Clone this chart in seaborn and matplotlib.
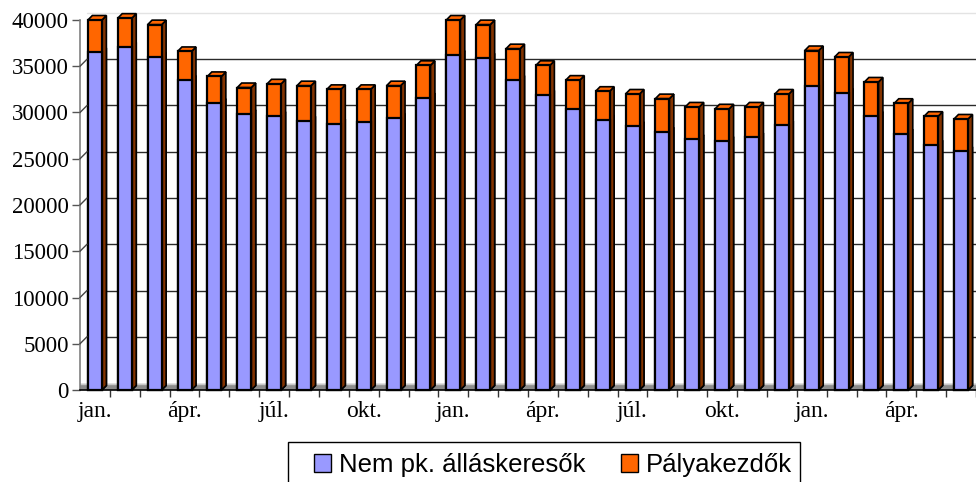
import numpy as np
import pandas as pd
import matplotlib
matplotlib.use("Agg")
import matplotlib.pyplot as plt
import matplotlib.transforms as mtransforms
from matplotlib.patches import Polygon, Patch, Rectangle
from matplotlib.lines import Line2D
import seaborn as sns

# ---- data ----
months = ["jan.", "febr.", "márc.", "ápr.", "máj.", "jún.",
          "júl.", "aug.", "szept.", "okt.", "nov.", "dec."] * 2 + \
         ["jan.", "febr.", "márc.", "ápr.", "máj.", "jún."]
nem_pk = [36500, 37100, 36000, 33500, 31000, 29800, 29600, 29100, 28800, 29000, 29400, 31600,
          36200, 35900, 33500, 31900, 30400, 29200, 28500, 27900, 27100, 26900, 27300, 28600,
          32900, 32100, 29600, 27700, 26500, 25800]
total = [40000, 40200, 39500, 36600, 33900, 32700, 33100, 32900, 32500, 32500, 32900, 35100,
         40000, 39500, 36900, 35100, 33500, 32300, 32000, 31500, 30600, 30400, 30600, 32000,
         36700, 36000, 33300, 31000, 29600, 29300]
palyakezdo = [t - n for t, n in zip(total, nem_pk)]
yticks = [0, 5000, 10000, 15000, 20000, 25000, 30000, 35000, 40000]
shown_labels = {"jan.", "ápr.", "júl.", "okt."}
series_names = ["Nem pk. álláskeresők", "Pályakezdők"]

df = pd.DataFrame({"idx": range(len(months)), "month": months,
                   "nem": nem_pk, "tot": [n + p for n, p in zip(nem_pk, palyakezdo)]})

BLUE = "#9999FF"
ORANGE = "#FF6600"
BLUE_SIDE = "#4F4F8A"
ORANGE_SIDE = "#833300"

sns.set_theme(style="white")
plt.rcParams["font.family"] = ["Liberation Serif", "DejaVu Serif"]

fig = plt.figure(figsize=(9.76, 4.82), dpi=100)
W, H = 976, 482
ax = fig.add_axes([80 / W, 1 - 390 / H, 1 - 80 / W, (390 - 20) / H])

sns.barplot(data=df, x="idx", y="tot", color=ORANGE, width=0.47, saturation=1,
            edgecolor="black", linewidth=1.6, ax=ax, zorder=3)
sns.barplot(data=df, x="idx", y="nem", color=BLUE, width=0.47, saturation=1,
            edgecolor="black", linewidth=1.6, ax=ax, zorder=3)

n = len(months)
ax.set_xlim(-0.5, 29.07)
ax.set_ylim(0, 40000)
fig.canvas.draw()

# 3D side/top faces derived from the bar patches
DX, DY = 4.5, 4.5  # pixels
inv = ax.transData.inverted()
def off(pt):
    disp = ax.transData.transform(pt)
    return inv.transform(disp + np.array([DX, DY]))

patches = list(ax.patches)
orange_p = patches[:n]
blue_p = patches[n:]
for p in patches:
    p.set_clip_on(False)
for group, side_c, top_c in [(blue_p, BLUE_SIDE, BLUE), (orange_p, ORANGE_SIDE, ORANGE)]:
    for p in group:
        x0, y0 = p.get_x(), p.get_y()
        x1, y1 = x0 + p.get_width(), y0 + p.get_height()
        side = [(x1, y0), (x1, y1), tuple(off((x1, y1))), tuple(off((x1, y0)))]
        top = [(x0, y1), (x1, y1), tuple(off((x1, y1))), tuple(off((x0, y1)))]
        ax.add_patch(Polygon(side, closed=True, facecolor=side_c, edgecolor="black",
                             lw=1.2, zorder=2.5, clip_on=False))
        ax.add_patch(Polygon(top, closed=True, facecolor=top_c, edgecolor="black",
                             lw=1.2, zorder=2.5, clip_on=False))

# floor
floor_top = inv.transform(ax.transData.transform((0, 0)) + np.array([0, 6]))[1]
ax.axhspan(0, floor_top, color="#8C8C8C", zorder=1)
ax.axhline(floor_top, color="#C8C8C8", lw=1.0, zorder=1.1)

# back-wall gridlines
ax.set_yticks(yticks)
ax.yaxis.grid(True, color="#2A2A2A", lw=1.0)
ax.set_axisbelow(True)
shift = mtransforms.ScaledTranslation(0.07, 0.07, fig.dpi_scale_trans)
glines = ax.get_ygridlines()
for i, gl in enumerate(glines):
    gl.set_transform(gl.get_transform() + shift)
    if i == 0:
        gl.set_visible(False)
    if i == len(glines) - 1:
        gl.set_color("#E3E3E3")
        gl.set_clip_on(False)

# small slanted connectors from the axis to the back wall
for v in yticks[1:-1]:
    px = ax.transAxes.transform((0, 0))[0]
    py = ax.transData.transform((0, v))[1]
    conn = Line2D([px, px + 7], [py, py + 7], color="#444444", lw=1.0,
                  transform=None, clip_on=False)
    fig.add_artist(conn)

# y-axis
ax.set_yticklabels([str(v) for v in yticks], fontsize=16.5, color="black")
ax.tick_params(axis="y", direction="out", length=6, width=1, color="#555555", pad=2, left=True)

# x-axis: ticks between bars, labels every quarter
ax.set_xticks(range(n))
ax.set_xticklabels([m if m in shown_labels else "" for m in months], fontsize=17, color="black")
ax.tick_params(axis="x", length=0, pad=8)
ax.set_xticks(np.arange(n) + 0.5, minor=True)
ax.tick_params(axis="x", which="minor", direction="out", length=5, width=1, color="#333333",
               bottom=True)
ax.set_xlabel("")
ax.set_ylabel("")

for s in ["top", "right"]:
    ax.spines[s].set_visible(False)
ax.spines["left"].set_color("#808080")
ax.spines["left"].set_linewidth(1.2)
ax.spines["bottom"].set_color("black")
ax.spines["bottom"].set_linewidth(1.2)

# legend
handles = [Patch(facecolor=BLUE, edgecolor="black", lw=1.0),
           Patch(facecolor=ORANGE, edgecolor="black", lw=1.0)]
leg = fig.legend(handles, series_names, loc="upper center",
                 bbox_to_anchor=(553 / W, 1 - 444 / H), ncol=2, frameon=False,
                 prop={"family": ["Liberation Sans", "DejaVu Sans"], "size": 18.5},
                 labelcolor="black",
                 handlelength=0.65, handleheight=0.65, handletextpad=0.3,
                 columnspacing=1.4, borderpad=0.35, borderaxespad=0)
fig.add_artist(Rectangle((288 / W, -0.05), 512 / W, (482 - 442) / H + 0.05,
                         transform=fig.transFigure, fill=False, ec="black", lw=1.0))

fig.savefig("out.png", dpi=100)
